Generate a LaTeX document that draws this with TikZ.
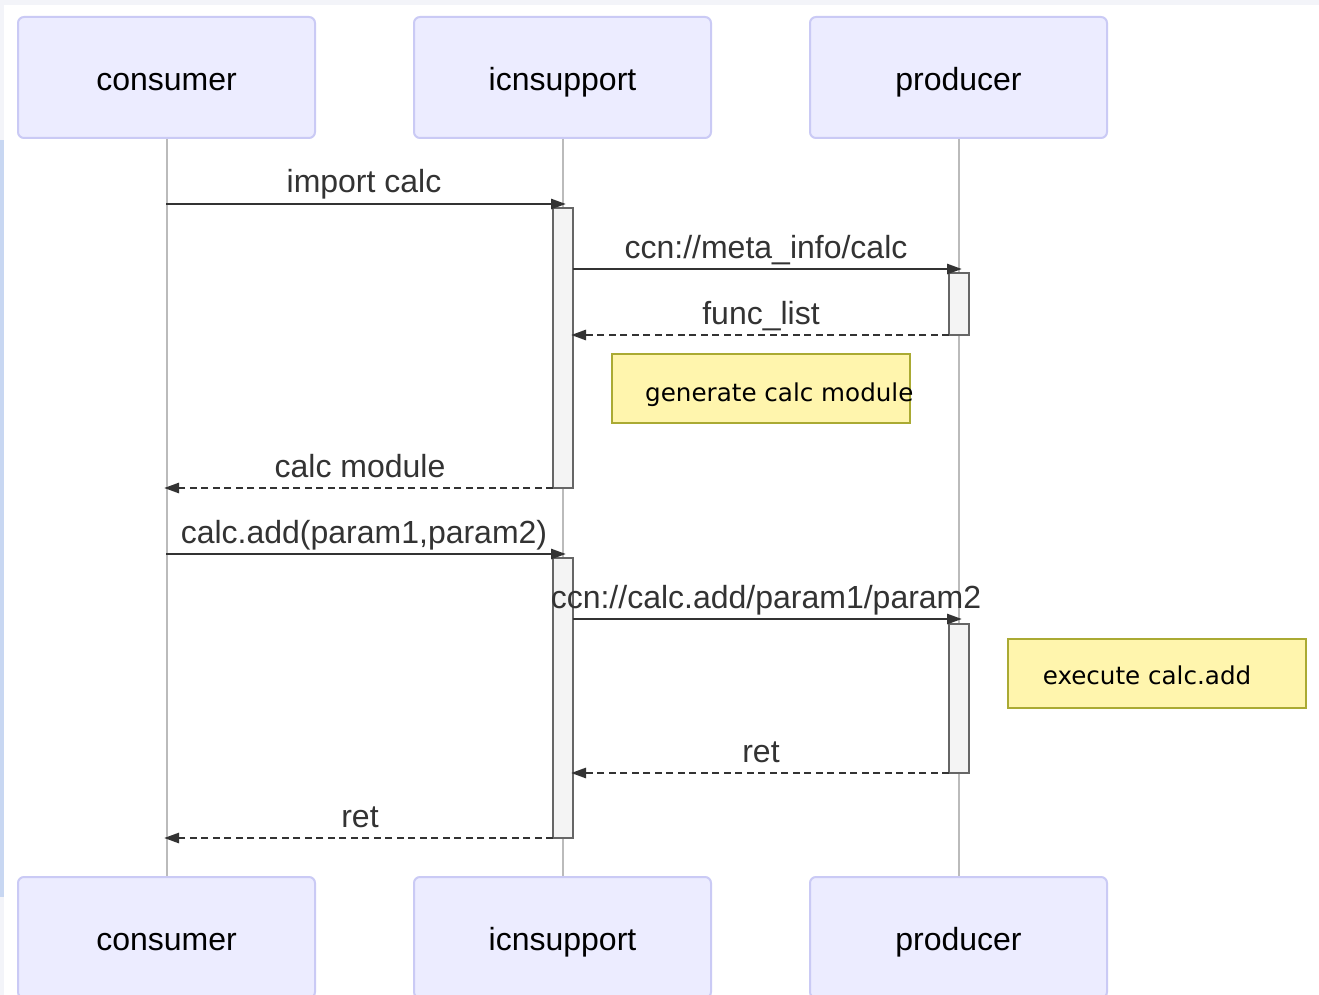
\documentclass[tikz,border=0pt]{standalone}
\usepackage{fontspec}
\setmainfont{Liberation Sans}
\newfontfamily\notefont{DejaVu Sans}
\usetikzlibrary{arrows.meta}
\definecolor{actfill}{HTML}{ECECFF}
\definecolor{actdraw}{HTML}{CACAF5}
\definecolor{linec}{HTML}{333333}
\definecolor{lifec}{HTML}{BBBBBB}
\definecolor{notefill}{HTML}{FFF5AD}
\definecolor{notedraw}{HTML}{AAAA33}
\definecolor{actvfill}{HTML}{F4F4F4}
\definecolor{actvdraw}{HTML}{666666}
\definecolor{edgegray}{HTML}{F3F4F9}
\definecolor{edgeblue}{HTML}{C8D7F2}
\begin{document}
\begin{tikzpicture}[x=1pt,y=-1pt,
  actor/.style={draw=actdraw,fill=actfill,line width=2pt,rounded corners=6pt,
    minimum width=297pt,minimum height=121pt,inner sep=0pt,
    text height=26pt,text depth=0pt,
    font=\fontsize{32}{38}\selectfont,text=black},
  life/.style={draw=lifec,line width=2pt},
  actv/.style={draw=actvdraw,fill=actvfill,line width=2pt,minimum width=20pt,inner sep=0pt},
  msg/.style={font=\fontsize{32}{38}\selectfont,text=linec,inner sep=0pt,anchor=base},
  sync/.style={draw=linec,line width=2.6pt,-{Triangle[length=15pt,width=10pt]}},
  reply/.style={draw=linec,line width=2.6pt,dash pattern=on 7pt off 4.5pt,-{Triangle[length=15pt,width=10pt]}},
  note/.style={draw=notedraw,fill=notefill,line width=2pt,minimum width=298pt,minimum height=69pt,inner sep=0pt},
  notetext/.style={font=\notefont\fontsize{24.6}{30}\selectfont,text=black,inner sep=0pt}
]
\useasboundingbox (0,0) rectangle (1319,995);
\clip (0,0) rectangle (1319,995);
\fill[white] (0,0) rectangle (1319,995);
% screenshot edges
\fill[edgegray] (0,0) rectangle (1319,5);
\fill[edgegray] (0,0) rectangle (4,995);
\fill[edgeblue] (0,140) rectangle (4,897);

% actors
\node[actor] (c1) at (166.5,77.5) {consumer};
\node[actor] (i1) at (562.5,77.5) {icnsupport};
\node[actor] (p1) at (958.5,77.5) {producer};
\node[actor] (c2) at (166.5,937.5) {consumer};
\node[actor] (i2) at (562.5,937.5) {icnsupport};
\node[actor] (p2) at (958.5,937.5) {producer};

% lifelines
\draw[life] (c1.south) -- (c2.north);
\draw[life] (i1.south) -- (i2.north);
\draw[life] (p1.south) -- (p2.north);

% activations
\node[actv,minimum height=280pt] (a1) at (563,348) {};
\node[actv,minimum height=62pt] (b1) at (959,304) {};
\node[actv,minimum height=280pt] (a2) at (563,698) {};
\node[actv,minimum height=149pt] (b2) at (959,698.5) {};

% message end coordinates
\coordinate (m1s) at (166,204); \coordinate (m1e) at (566,204);
\coordinate (m2s) at (573,269); \coordinate (m2e) at (962,269);
\coordinate (m3s) at (949,335); \coordinate (m3e) at (571,335);
\coordinate (m4s) at (553,488); \coordinate (m4e) at (164,488);
\coordinate (m5s) at (166,554); \coordinate (m5e) at (566,554);
\coordinate (m6s) at (573,619); \coordinate (m6e) at (962,619);
\coordinate (m7s) at (949,773); \coordinate (m7e) at (571,773);
\coordinate (m8s) at (553,838); \coordinate (m8e) at (164,838);

\draw[sync] (m1s) -- (m1e);
\draw[sync] (m2s) -- (m2e);
\draw[reply] (m3s) -- (m3e);
\draw[reply] (m4s) -- (m4e);
\draw[sync] (m5s) -- (m5e);
\draw[sync] (m6s) -- (m6e);
\draw[reply] (m7s) -- (m7e);
\draw[reply] (m8s) -- (m8e);

% message labels
\node[msg] (t1) at (364,193) {import calc};
\node[msg] (t2) at (766,258) {ccn://meta\_info/calc};
\node[msg] (t3) at (761,324) {func\_list};
\node[msg] (t4) at (360,477) {calc module};
\node[msg] (t5) at (364,543) {calc.add(param1,param2)};
\node[msg] (t6) at (766,608) {ccn://calc.add/param1/param2};
\node[msg] (t7) at (761,762) {ret};
\node[msg] (t8) at (360,827) {ret};

% notes
\node[note] (n1) at (761,388.5) {};
\node[notetext,anchor=base west] (n1t) at (645,401) {generate calc module};
\node[note] (n2) at (1157,673) {};
\node[notetext,anchor=base] (n2t) at (1147,684) {execute calc.add};
\end{tikzpicture}
\end{document}
